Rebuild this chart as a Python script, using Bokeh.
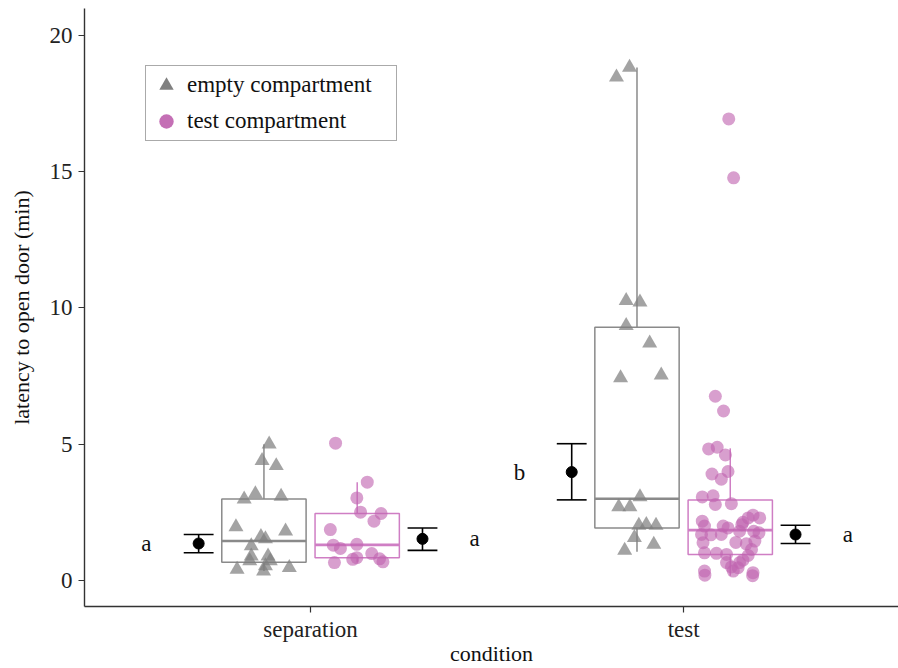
from bokeh.plotting import figure
from bokeh.models import Range1d, FixedTicker, Legend, LegendItem
from bokeh.core.properties import value
from bokeh.embed import file_html
from bokeh.resources import INLINE

# ---------------- data ----------------
conditions = ["separation", "test"]
compartments = ["empty compartment", "test compartment"]

# raw observations (latency, min) and horizontal jitter (category units)
sep_empty_y = [5.0, 4.4, 4.21, 3.18, 2.99, 3.09, 1.97, 1.81, 1.61, 1.53, 1.27,
               0.90, 0.72, 0.90, 0.72, 0.41, 0.35, 0.54, 0.47]
sep_empty_jit = [0.014, -0.005, 0.033, -0.023, -0.053, 0.046, -0.075, 0.058, -0.008,
                 0.004, -0.034, -0.034, -0.038, 0.011, 0.017, -0.072, -0.001, 0.004, 0.068]

sep_test_y = [5.04, 3.61, 3.03, 2.51, 2.46, 2.18, 1.87, 1.30, 1.18, 1.33, 0.99,
              0.78, 0.84, 0.66, 0.80, 0.69]
sep_test_jit = [-0.058, 0.027, -0.001, 0.009, 0.064, 0.045, -0.072, -0.064, -0.045,
                -0.001, 0.039, -0.012, -0.001, -0.061, 0.060, 0.069]

test_empty_y = [18.46, 18.82, 10.27, 10.21, 9.35, 8.71, 7.43, 7.53, 3.07, 2.70, 2.70,
                2.02, 2.05, 2.02, 1.57, 1.33, 1.11]
test_empty_jit = [-0.055, -0.020, -0.029, 0.008, -0.029, 0.034, -0.044, 0.065, 0.008,
                  -0.049, -0.019, 0.005, 0.025, 0.051, -0.007, 0.045, -0.033]

test_test_y = [16.93, 14.77, 6.76, 6.22, 4.83, 4.89, 4.61, 4.0, 3.91, 3.72, 3.07, 3.11,
               2.79, 2.82, 2.40, 2.30, 2.14, 2.18, 2.0, 2.0, 1.93, 1.81, 1.81, 1.69,
               1.69, 1.45, 1.39, 1.35, 1.14, 1.02, 0.96, 0.92, 0.75, 0.66, 0.66, 0.50,
               0.47, 0.35, 0.35, 0.29, 0.20, 0.18, 1.68, 2.30, 1.40, 1.00, 2.05, 1.75]
test_test_jit = [-0.004, 0.009, -0.040, -0.018, -0.058, -0.035, -0.013, -0.006, -0.049,
                 -0.024, -0.075, -0.046, -0.040, 0.003, 0.061, 0.048, 0.034, -0.075,
                 -0.069, -0.019, -0.006, 0.025, 0.063, -0.077, -0.024, 0.066, -0.073,
                 0.043, 0.057, -0.069, -0.010, 0.048, 0.034, -0.010, 0.025,
                 0.003, 0.021, 0.008, -0.069, 0.061, -0.068, 0.060, -0.052, 0.079,
                 0.015, -0.037, 0.031, 0.077]

# box statistics in order: sep/empty, sep/test, test/empty, test/test
box_whisker_low = [0.35, 0.66, 1.06, 0.18]
box_q1 = [0.67, 0.84, 1.93, 0.96]
box_median = [1.45, 1.31, 3.00, 1.85]
box_q3 = [2.99, 2.46, 9.29, 2.96]
box_whisker_high = [5.00, 3.61, 18.82, 4.85]

# mean +/- SE
mean_vals = [1.36, 1.53, 3.98, 1.69]
mean_lo = [1.02, 1.11, 2.96, 1.36]
mean_hi = [1.69, 1.93, 5.02, 2.03]
letters = ["a", "a", "b", "a"]

y_ticks = [0, 5, 10, 15, 20]

# ---------------- styling ----------------
FONT = "Liberation Serif"
GREY = "#808080"
PINK = "#c064b0"
GREY_LINE = "#8a8a8a"
PINK_LINE = "#cf7ec4"

p = figure(width=898, height=668, output_backend="svg", toolbar_location=None,
           x_range=Range1d(0.394, 2.576), y_range=Range1d(-0.95, 20.98),
           min_border_left=84, min_border_top=8, min_border_right=0, min_border_bottom=0)
p.outline_line_color = None
p.xgrid.visible = False
p.ygrid.visible = False
p.background_fill_color = "white"

groups = [(0, 0), (0, 1), (1, 0), (1, 1)]   # (condition index, compartment index)
dodge = [-0.125, 0.125]
half_w = 0.113
raw_y = [sep_empty_y, sep_test_y, test_empty_y, test_test_y]
raw_j = [sep_empty_jit, sep_test_jit, test_empty_jit, test_test_jit]

for k, (ci, mi) in enumerate(groups):
    cx = ci + 1 + dodge[mi]
    lc = GREY_LINE if mi == 0 else PINK_LINE
    p.segment(x0=[cx, cx], y0=[box_whisker_low[k], box_q3[k]],
              x1=[cx, cx], y1=[box_q1[k], box_whisker_high[k]],
              line_color=lc, line_width=1.5)
    p.quad(left=[cx - half_w], right=[cx + half_w], bottom=[box_q1[k]], top=[box_q3[k]],
           fill_color=None, line_color=lc, line_width=1.5)
    p.segment(x0=[cx - half_w], x1=[cx + half_w], y0=[box_median[k]], y1=[box_median[k]],
              line_color=lc, line_width=2.6)

for k, (ci, mi) in enumerate(groups):
    cx = ci + 1 + dodge[mi]
    xs = [cx + j for j in raw_j[k]]
    if mi == 0:
        p.scatter(xs, raw_y[k], marker="triangle", size=15, fill_color=GREY,
                  fill_alpha=0.72, line_color=None)
    else:
        p.scatter(xs, raw_y[k], marker="circle", size=13, fill_color=PINK,
                  fill_alpha=0.62, line_color=None)

# mean +/- SE with letters
side = [-1, 1]
for k, (ci, mi) in enumerate(groups):
    mx = ci + 1 + side[mi] * 0.30
    p.segment(x0=[mx], x1=[mx], y0=[mean_lo[k]], y1=[mean_hi[k]], line_color="black", line_width=1.6)
    p.segment(x0=[mx - 0.04, mx - 0.04], x1=[mx + 0.04, mx + 0.04], y0=[mean_lo[k], mean_hi[k]],
              y1=[mean_lo[k], mean_hi[k]], line_color="black", line_width=1.6)
    p.scatter([mx], [mean_vals[k]], marker="circle", size=11, fill_color="black", line_color="black")
    lx = ci + 1 + side[mi] * 0.44
    p.text([lx], [mean_vals[k]], text=[letters[k]], text_font=value(FONT), text_font_size="23px",
           text_align="center", text_baseline="middle", text_color="#111111")

# legend (off-screen stand-in renderers so legend glyphs are opaque)
r_tri = p.scatter([-10], [-10], marker="triangle", size=16, fill_color=GREY, line_color=None)
r_cir = p.scatter([-10], [-10], marker="circle", size=15, fill_color="#c46fb5", line_color=None)
legend = Legend(items=[LegendItem(label=compartments[0], renderers=[r_tri]),
                       LegendItem(label=compartments[1], renderers=[r_cir])],
                location=(61, 465))
legend.label_text_font = FONT
legend.label_text_font_size = "23px"
legend.label_text_color = "#111111"
legend.glyph_width = 38
legend.glyph_height = 36
legend.label_height = 36
legend.label_width = 208
legend.label_standoff = 2
legend.spacing = 0
legend.padding = 1
legend.margin = 0
legend.border_line_color = "#555555"
legend.border_line_width = 1.2
legend.background_fill_color = "white"
p.add_layout(legend, "center")

# axes
p.xaxis.ticker = FixedTicker(ticks=[1, 2])
p.xaxis.major_label_overrides = {1: conditions[0], 2: conditions[1]}
p.yaxis.ticker = FixedTicker(ticks=y_ticks)
for ax in (p.xaxis, p.yaxis):
    ax.axis_line_color = "#333333"
    ax.axis_line_width = 1.4
    ax.major_tick_line_color = "#333333"
    ax.major_tick_line_width = 1.2
    ax.major_tick_out = 6
    ax.major_tick_in = 0
    ax.minor_tick_line_color = None
    ax.major_label_text_font = FONT
    ax.major_label_text_font_size = "23px"
    ax.major_label_text_color = "#222222"
    ax.axis_label_text_font = FONT
    ax.axis_label_text_font_style = "normal"
    ax.axis_label_text_font_size = "22px"
    ax.axis_label_text_color = "#111111"
p.xaxis.axis_label = "condition"
p.yaxis.axis_label = "latency to open door (min)"
p.xaxis.major_label_standoff = 4
p.xaxis.axis_label_standoff = -4
p.yaxis.major_label_standoff = 6
p.yaxis.axis_label_standoff = 13

open("out.html", "w").write(file_html(p, INLINE))
